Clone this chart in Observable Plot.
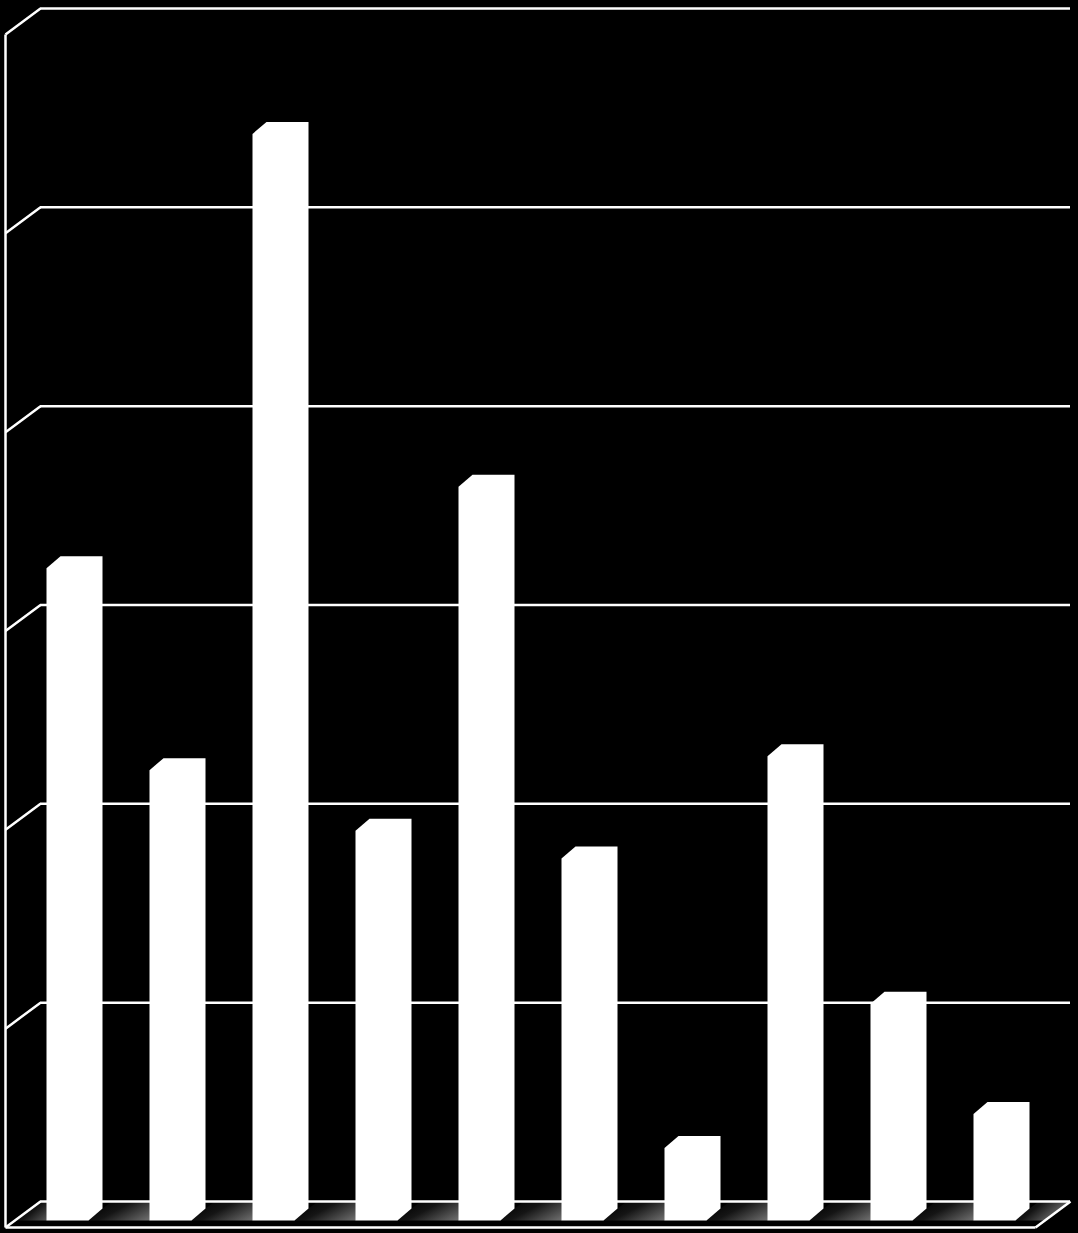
<!DOCTYPE html>
<html><head><meta charset="utf-8">
<script src="https://cdn.jsdelivr.net/npm/d3@7"></script>
<script src="https://cdn.jsdelivr.net/npm/@observablehq/plot@0.6"></script>
<style>html,body{margin:0;padding:0;background:#000;overflow:hidden}</style>
</head><body><div id="chart"></div>
<script>
// ---- data ----
const categories = ["1","2","3","4","5","6","7","8","9","10"];
const values = [3.28, 2.265, 5.465, 1.96, 3.69, 1.82, 0.365, 2.335, 1.09, 0.535];
const yTicks = [0, 1, 2, 3, 4, 5, 6];

// ---- layout ----
const W = 1078, H = 1233, mL = 40, mR = 8, mT = 8, mB = 32;
const yMax = 6;
const unitX = (W - mL - mR) / categories.length;   // px per category
const unitY = (H - mT - mB) / yMax;                // px per value unit
const kx = 35 / unitX, ky = 26 / unitY;            // floor / wall depth
const barLeft = 6 / unitX, barW = 42 / unitX;      // front face
const barDX = 14 / unitX, barDY = 12 / unitY;      // bar depth
const barBase = -19 / unitY;                       // front face base
const sx = (barBase / ky) * kx;                    // floor slope shift at barBase
const backShift = -((barBase + barDY) / ky) * kx;

const n = categories.length;

// bar hexagons (front face + top + side silhouette)
const barPts = [];
categories.forEach((c, i) => {
  const v = values[i];
  const a = i + barLeft, b = a + barW;
  const y0 = barBase, y1 = barBase + v;
  [[a, y0], [a, y1], [a + barDX, y1 + barDY], [b + barDX, y1 + barDY], [b + barDX, y0 + barDY], [b, y0]]
    .forEach(([x, y]) => barPts.push({cat: c, x, y}));
});

// floor shading between bars
const shadePts = [];
for (let i = 0; i <= n; i++) {
  const xb0 = i === 0 ? 0 : (i - 1) + barLeft + barW + barDX + backShift;
  const xb1 = i === n ? n : i + barLeft - sx;
  [[xb0, 0], [xb1, 0], [xb1 + sx, barBase], [xb0 + sx, barBase]]
    .forEach(([x, y]) => shadePts.push({band: i, x, y}));
}

const lineColor = "#ffffff";
const lw = 2.5;
const svg = Plot.plot({
  width: W, height: H,
  marginLeft: mL, marginRight: mR, marginTop: mT, marginBottom: mB,
  style: {background: "#000"},
  x: {domain: [0, n], axis: null},
  y: {domain: [0, yMax], axis: null},
  marks: [
    Plot.line(shadePts, {x: "x", y: "y", z: "band", fill: "url(#floorGrad)", stroke: "none", curve: "linear-closed"}),
    Plot.ruleY(yTicks, {stroke: lineColor, strokeWidth: lw}),
    Plot.link(yTicks, {x1: -kx, y1: d => d - ky, x2: 0, y2: d => d, stroke: lineColor, strokeWidth: lw}),
    Plot.link([0], {x1: -kx, x2: -kx, y1: -ky, y2: yMax - ky, stroke: lineColor, strokeWidth: lw}),
    Plot.link([0], {x1: -kx, y1: -ky, x2: n - kx, y2: -ky, stroke: lineColor, strokeWidth: lw}),
    Plot.link([0], {x1: n - kx, y1: -ky, x2: n, y2: 0, stroke: lineColor, strokeWidth: lw}),
    Plot.line(barPts, {x: "x", y: "y", z: "cat", fill: "#fff", stroke: "none", curve: "linear-closed"})
  ]
});

const defs = d3.select(svg).insert("defs", ":first-child");
const g = defs.append("linearGradient").attr("id", "floorGrad")
  .attr("x1", "0").attr("y1", "0.3").attr("x2", "1").attr("y2", "0.7");
[[0, "#000"], [0.35, "#151515"], [0.8, "#666"], [1, "#888"]]
  .forEach(([o, c]) => g.append("stop").attr("offset", o).attr("stop-color", c));

document.getElementById("chart").appendChild(svg);
</script>
</body></html>
